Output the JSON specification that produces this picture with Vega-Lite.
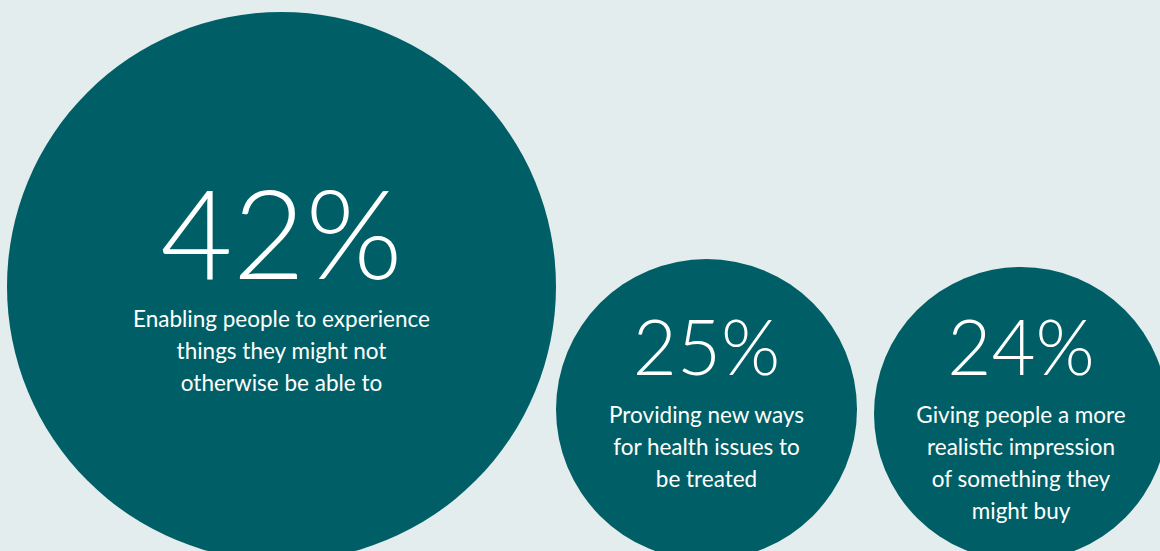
{
  "$schema": "https://vega.github.io/schema/vega-lite/v6.json",
  "width": 1160,
  "height": 551,
  "padding": 0,
  "autosize": {"type": "none"},
  "background": "#e4eded",
  "config": {"view": {"stroke": null}},
  "data": {"values": [
    {"value": 42, "label": "42%", "description": ["Enabling people to experience", "things they might not", "otherwise be able to"]},
    {"value": 25, "label": "25%", "description": ["Providing new ways", "for health issues to", "be treated"]},
    {"value": 24, "label": "24%", "description": ["Giving people a more", "realistic impression", "of something they", "might buy"]}
  ]},
  "encoding": {
    "x": {"field": "value", "type": "quantitative", "scale": {"domain": [24, 25, 42], "range": [1021, 706.5, 281.5], "zero": false, "nice": false}, "axis": null}
  },
  "layer": [
    {
      "mark": {"type": "circle", "opacity": 1, "color": "#005f66", "clip": true},
      "encoding": {
        "y": {"field": "value", "type": "quantitative", "scale": {"domain": [24, 25, 42], "range": [414, 409.5, 286.5], "zero": false, "nice": false}, "axis": null},
        "size": {"field": "value", "type": "quantitative", "scale": {"domain": [24, 25, 42], "range": [86436, 90601, 301401], "zero": false, "nice": false}, "legend": null}
      }
    },
    {
      "mark": {"type": "text", "font": "Lato", "fontWeight": 300, "color": "#ffffff", "align": "center", "baseline": "alphabetic"},
      "encoding": {
        "text": {"field": "label"},
        "y": {"field": "value", "type": "quantitative", "scale": {"domain": [24, 25, 42], "range": [375, 375, 279], "zero": false, "nice": false}, "axis": null},
        "size": {"field": "value", "type": "quantitative", "scale": {"domain": [24, 25, 42], "range": [76, 76, 125], "zero": false, "nice": false}, "legend": null}
      }
    },
    {
      "mark": {"type": "text", "font": "Lato", "fontSize": 22.5, "lineHeight": 32, "color": "#ffffff", "align": "center", "baseline": "alphabetic"},
      "encoding": {
        "text": {"field": "description"},
        "y": {"field": "value", "type": "quantitative", "scale": {"domain": [24, 25, 42], "range": [423, 423, 327], "zero": false, "nice": false}, "axis": null}
      }
    }
  ],
  "resolve": {"scale": {"y": "independent", "size": "independent"}}
}
